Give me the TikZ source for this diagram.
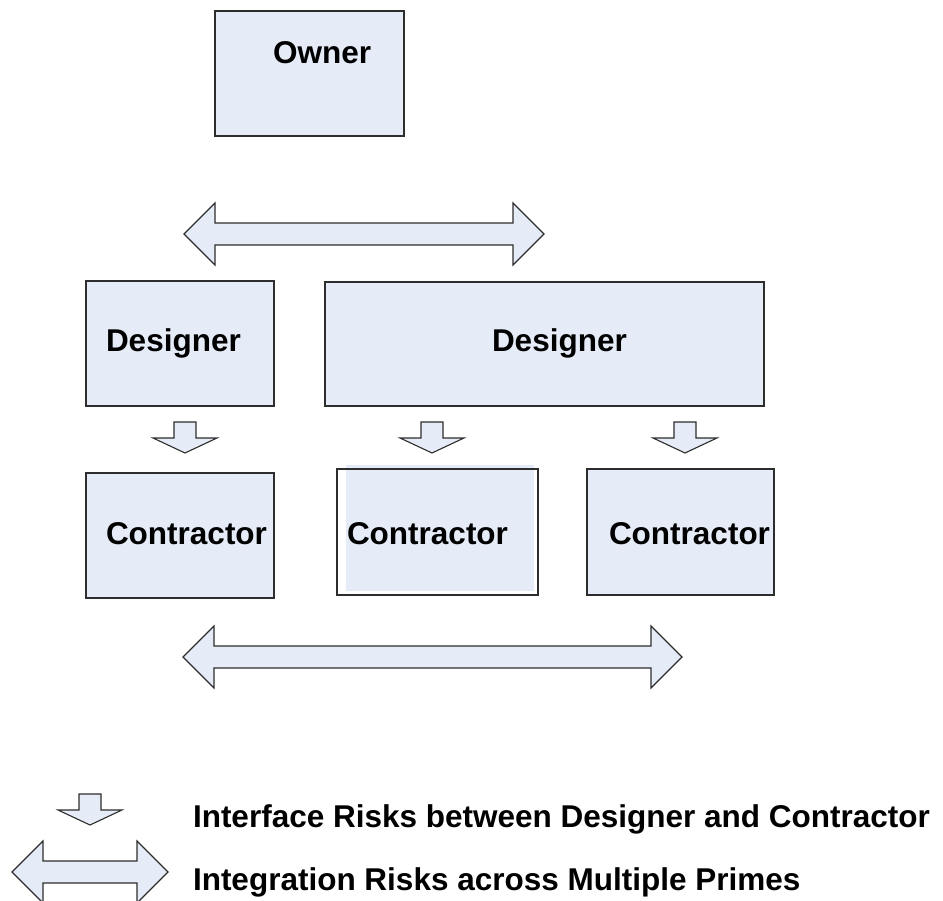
\documentclass[tikz,border=0pt]{standalone}
\usepackage{fontspec}
\setmainfont{Liberation Sans}
\begin{document}
\definecolor{boxfill}{RGB}{230,236,247}
\definecolor{boxline}{RGB}{45,45,45}
\begin{tikzpicture}[x=1pt,y=-1pt,
  every node/.style={inner sep=0pt, outer sep=0pt},
  riskbox/.style={draw=boxline, fill=boxfill, line width=1.3pt, rectangle},
  shapeline/.style={draw=boxline, fill=boxfill, line width=1.1pt, line join=miter},
  lbl/.style={anchor=base west, font=\bfseries\fontsize{31.5}{38}\selectfont},
  % downward block arrow, origin at the middle of the top edge of its stem
  pics/riskdown/.style={code={
    \path[shapeline] (-11,0) -- (11,0) -- (11,16) -- (32,16) -- (0,31)
      -- (-32,16) -- (-11,16) -- cycle;}},
  % two-headed block arrow, origin at the left tip, #1 = tip to tip length
  pics/riskboth/.style={code={
    \path[shapeline] (0,0) -- (31,-31) -- (31,-11) -- ({#1-31},-11)
      -- ({#1-31},-31) -- (#1,0) -- ({#1-31},31) -- ({#1-31},11)
      -- (31,11) -- (31,31) -- cycle;}},
]
\useasboundingbox (0,0) rectangle (943,901);

% boxes
\node[riskbox, minimum width=189pt, minimum height=125pt] (owner) at (309.5,73.5) {};
\node[riskbox, minimum width=188pt, minimum height=125pt] (des1) at (180,343.5) {};
\node[riskbox, minimum width=439pt, minimum height=124pt] (des2) at (544.5,344) {};
\node[riskbox, minimum width=188pt, minimum height=125pt] (con1) at (180,535.5) {};
\node[fill=boxfill, minimum width=188pt, minimum height=126pt] (con2fill) at (440,528) {};
\node[draw=boxline, line width=1.3pt, minimum width=201pt, minimum height=126pt] (con2) at (437.5,532) {};
\node[riskbox, minimum width=187pt, minimum height=126pt] (con3) at (680.5,532) {};

% labels
\node[lbl] (townr) at (273,64) {Owner};
\node[lbl] (tdes1) at (106,352) {Designer};
\node[lbl] (tdes2) at (492,352) {Designer};
\node[lbl] (tcon1) at (106,544) {Contractor};
\node[lbl] (tcon2) at (347,544) {Contractor};
\node[lbl] (tcon3) at (609,544) {Contractor};

% interface arrows between designers and contractors
\pic at (185,422) {riskdown};
\pic at (432,422) {riskdown};
\pic at (685,422) {riskdown};

% integration arrows
\pic at (184,234) {riskboth=360};
\pic at (183,657) {riskboth=499};

% legend
\pic at (90,794) {riskdown};
\pic at (12,872) {riskboth=156};
\node[lbl] (leg1) at (193,827) {Interface Risks between Designer and Contractor};
\node[lbl] (leg2) at (193,890) {Integration Risks across Multiple Primes};
\end{tikzpicture}
\end{document}
